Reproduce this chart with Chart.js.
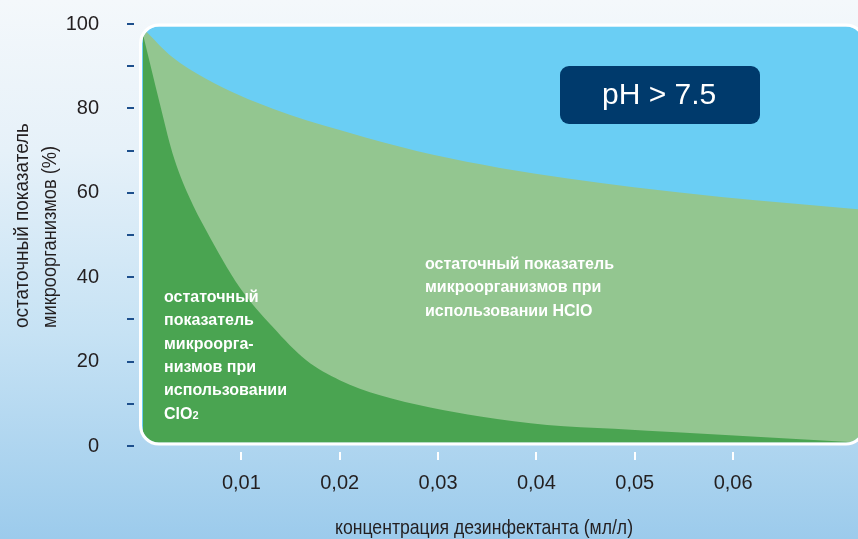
<!DOCTYPE html>
<html>
<head>
<meta charset="utf-8">
<script src="https://cdn.jsdelivr.net/npm/chart.js@4.4.0/dist/chart.umd.min.js"></script>
<style>
  html, body { margin: 0; padding: 0; }
  body {
    width: 858px;
    height: 539px;
    overflow: hidden;
    background: linear-gradient(180deg, #f4f8fb 0%, #e6f1f9 28%, #c6e2f4 62%, #9ccbec 100%);
  }
  canvas { display: block; }
</style>
</head>
<body>
<canvas id="myChart" width="858" height="539"></canvas>
<script>
// concentration (ml/l) -> residual microorganisms (%)
const hclo_x = [0, 0.003, 0.0064, 0.0098, 0.0132, 0.0166, 0.02, 0.0228, 0.0295, 0.0363, 0.0432, 0.0499, 0.0588, 0.0727];
const hclo_y = [99, 92.1, 87.0, 83.1, 79.9, 77.2, 74.9, 73.0, 69.0, 65.9, 63.4, 61.3, 59.0, 56.1];

const clo2_x = [0, 0.0017, 0.003, 0.0047, 0.0064, 0.0098, 0.0132, 0.0166, 0.02, 0.0241, 0.0292, 0.0343, 0.0411, 0.0479, 0.0547, 0.0727];
const clo2_y = [97.5, 81.2, 69.4, 59.0, 51.2, 37.7, 28.2, 20.3, 15.6, 12.0, 9.1, 7.0, 5.0, 4.1, 3.2, 0.8];

const x_ticks = [0.01, 0.02, 0.03, 0.04, 0.05, 0.06];
const y_ticks = [0, 20, 40, 60, 80, 100];

const x_title = "концентрация дезинфектанта (мл/л)";
const y_title = ["остаточный показатель", "микроорганизмов (%)"];
const clo2_label = ["остаточный", "показатель", "микроорга-", "низмов при", "использовании"];
const hclo_label = ["остаточный показатель", "микроорганизмов при", "использовании HClO"];
const ph_label = "pH > 7.5";

const SKY = "#6acef4";
const LIGHT_GREEN = "#93c690";
const DARK_GREEN = "#4aa451";
const NAVY = "#003a6c";
const SANS = "'Liberation Sans', Arial, sans-serif";

let round_path = (ctx, x, y, w, h, r) => {
  ctx.beginPath();
  ctx.moveTo(x + r, y);
  ctx.arcTo(x + w, y, x + w, y + h, r);
  ctx.arcTo(x + w, y + h, x, y + h, r);
  ctx.arcTo(x, y + h, x, y, r);
  ctx.arcTo(x, y, x + w, y, r);
  ctx.closePath();
};

// text squeezed horizontally to a given width, to look like a condensed face
let narrow_text = (ctx, s, x, y, width) => {
  const w = ctx.measureText(s).width;
  const k = Math.min(1, width / w);
  ctx.save();
  ctx.translate(x, y);
  ctx.scale(k, 1);
  ctx.fillText(s, 0, 0);
  ctx.restore();
};

const decor = {
  id: "decor",
  beforeDatasetsDraw(chart) {
    const ctx = chart.ctx;
    const a = chart.chartArea;
    ctx.save();
    round_path(ctx, a.left - 1, a.top + 2.5, a.right - a.left + 6, a.bottom - a.top - 6, 17);
    ctx.fillStyle = SKY;
    ctx.fill();
    ctx.clip();
  },
  afterDatasetsDraw(chart) {
    const ctx = chart.ctx;
    const a = chart.chartArea;
    ctx.restore();

    ctx.save();
    // white frame
    round_path(ctx, a.left - 2.5, a.top + 1, a.right - a.left + 9, a.bottom - a.top - 3, 18.5);
    ctx.strokeStyle = "#ffffff";
    ctx.lineWidth = 3;
    ctx.stroke();

    // y tick marks
    const ys = chart.scales.y;
    ctx.fillStyle = "#1d4f8c";
    ys.ticks.forEach((t) => {
      const py = Math.round(ys.getPixelForValue(t.value));
      ctx.fillRect(a.left - 16, py - 1, 7, 2);
    });

    // x tick marks
    const xs = chart.scales.x;
    ctx.fillStyle = "#ffffff";
    xs.ticks.forEach((t) => {
      const px = Math.round(xs.getPixelForValue(t.value));
      ctx.fillRect(px - 1, a.bottom + 6, 2, 8);
    });

    // labels inside the areas
    ctx.fillStyle = "#ffffff";
    ctx.font = "bold 16px " + SANS;
    ctx.textAlign = "left";
    ctx.textBaseline = "alphabetic";
    clo2_label.forEach((s, i) => ctx.fillText(s, 164, 302 + i * 23.3));
    ctx.fillText("ClO", 164, 302 + 5 * 23.3);
    const w = ctx.measureText("ClO").width;
    ctx.font = "bold 11px " + SANS;
    ctx.fillText("2", 164 + w, 302 + 5 * 23.3);

    ctx.font = "bold 16px " + SANS;
    hclo_label.forEach((s, i) => ctx.fillText(s, 425, 269 + i * 23.3));

    // pH box
    round_path(ctx, 560, 66, 200, 58, 9);
    ctx.fillStyle = NAVY;
    ctx.fill();
    ctx.fillStyle = "#ffffff";
    ctx.font = "30px " + SANS;
    narrow_text(ctx, ph_label, 602, 104, 115);

    // axis titles
    ctx.fillStyle = "#231f20";
    ctx.font = "21px " + SANS;
    narrow_text(ctx, x_title, 335, 534, 298);

    ctx.save();
    ctx.translate(28, 328);
    ctx.rotate(-Math.PI / 2);
    narrow_text(ctx, y_title[0], 0, 0, 205);
    narrow_text(ctx, y_title[1], 0, 28, 182);
    ctx.restore();

    ctx.restore();
  },
};

const points = (xs, ys) => xs.map((x, i) => ({ x: x, y: ys[i] }));

const ctx = document.getElementById("myChart").getContext("2d");

const myChart = new Chart(ctx, {
  type: "line",
  data: {
    datasets: [
      {
        label: "ClO2",
        data: points(clo2_x, clo2_y),
        fill: "origin",
        backgroundColor: DARK_GREEN,
        borderWidth: 0,
        pointRadius: 0,
        cubicInterpolationMode: "monotone",
      },
      {
        label: "HClO",
        data: points(hclo_x, hclo_y),
        fill: "origin",
        backgroundColor: LIGHT_GREEN,
        borderWidth: 0,
        pointRadius: 0,
        cubicInterpolationMode: "monotone",
      },
    ],
  },
  options: {
    responsive: false,
    animation: false,
    layout: { padding: { top: 24, right: 0, bottom: 0, left: 0 } },
    plugins: {
      legend: { display: false },
      tooltip: { enabled: false },
    },
    scales: {
      x: {
        type: "linear",
        min: 0,
        max: 0.0727,
        afterFit: (s) => {
          s.height = 93;
        },
        afterBuildTicks: (s) => {
          s.ticks = x_ticks.map((v) => ({ value: v }));
        },
        grid: { display: false },
        border: { display: false },
        ticks: {
          padding: 17,
          color: "#231f20",
          font: { family: SANS, size: 20 },
          callback: (v) => v.toFixed(2).replace(".", ","),
        },
      },
      y: {
        min: 0,
        max: 100,
        afterFit: (s) => {
          s.width = 143;
          // label padding would otherwise push the plot down
          s.paddingTop = 0;
          s.paddingBottom = 0;
        },
        grid: { display: false },
        border: { display: false },
        ticks: {
          stepSize: 10,
          padding: 36,
          color: "#231f20",
          font: { family: SANS, size: 20 },
          callback: (v) => (y_ticks.includes(v) ? v : ""),
        },
      },
    },
  },
  plugins: [decor],
});
</script>
</body>
</html>
